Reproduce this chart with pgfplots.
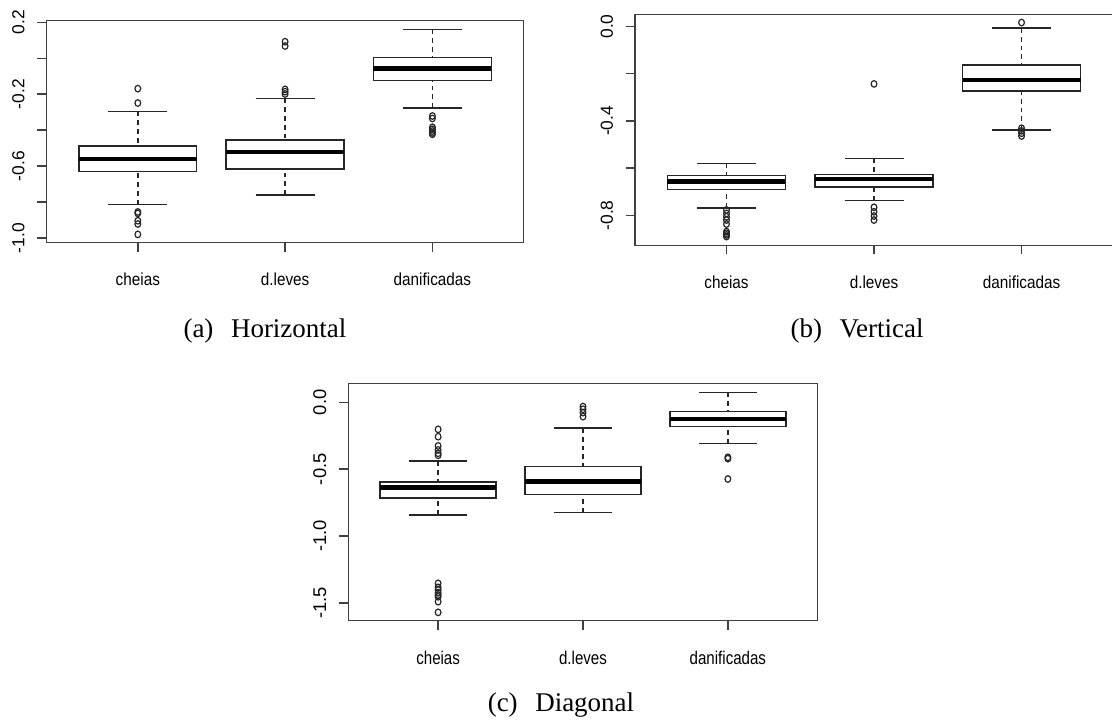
\documentclass[border=0pt]{standalone}
\usepackage{fontspec}
\setmainfont{Liberation Serif}
\setsansfont{Liberation Sans}
\usepackage{pgfplots}
\pgfplotsset{compat=1.18}
\usepgfplotslibrary{statistics}

% R-style boxplot: dashed stem, solid cap
\pgfplotsset{
  boxplot/draw/lower whisker/.code={%
    \draw[/pgfplots/boxplot/every whisker/.try, dash pattern=on 2.4pt off 2pt]
      (boxplot box cs:\pgfplotsboxplotvalue{lower whisker},0.5) --
      (boxplot box cs:\pgfplotsboxplotvalue{lower quartile},0.5);
    \draw[/pgfplots/boxplot/every whisker/.try]
      (boxplot whisker cs:\pgfplotsboxplotvalue{lower whisker},0) --
      (boxplot whisker cs:\pgfplotsboxplotvalue{lower whisker},1);
  },
  boxplot/draw/upper whisker/.code={%
    \draw[/pgfplots/boxplot/every whisker/.try, dash pattern=on 2.4pt off 2pt]
      (boxplot box cs:\pgfplotsboxplotvalue{upper whisker},0.5) --
      (boxplot box cs:\pgfplotsboxplotvalue{upper quartile},0.5);
    \draw[/pgfplots/boxplot/every whisker/.try]
      (boxplot whisker cs:\pgfplotsboxplotvalue{upper whisker},0) --
      (boxplot whisker cs:\pgfplotsboxplotvalue{upper whisker},1);
  },
  rbox/.style={
    scale only axis, anchor=south west,
    xmin=0.38, xmax=3.62,
    xtick={1,2,3}, xticklabels={cheias,d.leves,danificadas},
    tick align=outside, xtick pos=bottom, ytick pos=left,
    major tick length=4.5pt,
    axis line style={black!75, line width=0.75pt},
    every tick/.style={black!75, line width=0.75pt},
    yticklabel style={rotate=90, anchor=south, inner sep=0pt},
    xticklabel style={anchor=base, inner sep=0pt},
    boxplot/draw direction=y,
    boxplot/box extend=0.8,
    boxplot/whisker extend=0.4,
    boxplot/every box/.style={draw=black!85, line width=0.75pt},
    boxplot/every whisker/.style={black!85, line width=0.75pt},
    boxplot/every median/.style={black, line width=2.2pt},
  },
  rplot/.style={black!85, line width=0.75pt, mark=o, mark size=1.65pt,
    mark options={solid, line width=0.6pt, xscale=0.87}},
}

\begin{document}
\begin{tikzpicture}
\useasboundingbox (0,0) rectangle (556pt,363.5pt);
\clip (0,0) rectangle (556pt,363.5pt);

% (a) Horizontal
\begin{axis}[rbox, at={(23.25pt,242.15pt)}, width=238.6pt, height=111pt,
    ymin=-1.026, ymax=0.209,
    ytick={-1,-0.8,-0.6,-0.4,-0.2,0,0.2},
    yticklabels={-1.0,,-0.6,,-0.2,,0.2},
    ticklabel style={font=\sffamily\fontsize{8.7}{10}\selectfont},
    xticklabel style={xscale=0.88, yshift=-17pt},
    yticklabel style={yshift=6.3pt}]
\addplot[rplot, boxplot prepared={draw position=1, lower whisker=-0.814,
    lower quartile=-0.629, median=-0.560, upper quartile=-0.488, upper whisker=-0.297}]
  table[row sep=\\, y index=0] {data\\ -0.169\\ -0.249\\ -0.855\\ -0.863\\ -0.904\\ -0.922\\ -0.980\\};
\addplot[rplot, boxplot prepared={draw position=2, lower whisker=-0.761,
    lower quartile=-0.616, median=-0.521, upper quartile=-0.455, upper whisker=-0.223}]
  table[row sep=\\, y index=0] {data\\ 0.092\\ 0.068\\ -0.173\\ -0.186\\ -0.199\\};
\addplot[rplot, boxplot prepared={draw position=3, lower whisker=-0.277,
    lower quartile=-0.125, median=-0.058, upper quartile=0.003, upper whisker=0.161}]
  table[row sep=\\, y index=0] {data\\ -0.321\\ -0.335\\ -0.384\\ -0.395\\ -0.405\\ -0.415\\ -0.423\\};
\end{axis}

% (b) Vertical
\begin{axis}[rbox, at={(317.5pt,240.85pt)}, width=239pt, height=115.5pt,
    ymin=-0.927, ymax=0.052,
    ytick={-0.8,-0.6,-0.4,-0.2,0},
    yticklabels={-0.8,,-0.4,,0.0},
    ticklabel style={font=\sffamily\fontsize{8.7}{10}\selectfont},
    xticklabel style={xscale=0.88, yshift=-17pt},
    yticklabel style={yshift=6.3pt}]
\addplot[rplot, boxplot prepared={draw position=1, lower whisker=-0.769,
    lower quartile=-0.690, median=-0.657, upper quartile=-0.632, upper whisker=-0.580}]
  table[row sep=\\, y index=0] {data\\ -0.777\\ -0.792\\ -0.806\\ -0.820\\ -0.837\\ -0.869\\ -0.876\\ -0.883\\ -0.890\\};
\addplot[rplot, boxplot prepared={draw position=2, lower whisker=-0.738,
    lower quartile=-0.681, median=-0.647, upper quartile=-0.627, upper whisker=-0.559}]
  table[row sep=\\, y index=0] {data\\ -0.243\\ -0.766\\ -0.785\\ -0.803\\ -0.820\\};
\addplot[rplot, boxplot prepared={draw position=3, lower whisker=-0.438,
    lower quartile=-0.273, median=-0.226, upper quartile=-0.164, upper whisker=-0.006}]
  table[row sep=\\, y index=0] {data\\ 0.017\\ -0.431\\ -0.442\\ -0.452\\ -0.464\\};
\end{axis}

% (c) Diagonal
\begin{axis}[rbox, at={(174.15pt,53.15pt)}, width=234.7pt, height=118.7pt,
    ymin=-1.632, ymax=0.142,
    ytick={-1.5,-1,-0.5,0},
    yticklabels={-1.5,-1.0,-0.5,0.0},
    ticklabel style={font=\sffamily\fontsize{9.2}{11}\selectfont},
    xticklabel style={xscale=0.82, yshift=-17.5pt},
    yticklabel style={yshift=6.3pt}]
\addplot[rplot, boxplot prepared={draw position=1, lower whisker=-0.842,
    lower quartile=-0.715, median=-0.638, upper quartile=-0.596, upper whisker=-0.439}]
  table[row sep=\\, y index=0] {data\\ -0.202\\ -0.257\\ -0.326\\ -0.356\\ -0.381\\ -0.396\\
    -1.353\\ -1.383\\ -1.403\\ -1.423\\ -1.440\\ -1.453\\ -1.490\\ -1.570\\};
\addplot[rplot, boxplot prepared={draw position=2, lower whisker=-0.822,
    lower quartile=-0.688, median=-0.591, upper quartile=-0.481, upper whisker=-0.192}]
  table[row sep=\\, y index=0] {data\\ -0.032\\ -0.052\\ -0.077\\ -0.107\\};
\addplot[rplot, boxplot prepared={draw position=3, lower whisker=-0.307,
    lower quartile=-0.182, median=-0.125, upper quartile=-0.070, upper whisker=0.075}]
  table[row sep=\\, y index=0] {data\\ -0.411\\ -0.421\\ -0.573\\};
\end{axis}

% sub-captions
\node[anchor=base, font=\fontsize{13.5}{16}\selectfont] at (132.5pt,194.5pt) {(a)\hspace{0.65em}Horizontal};
\node[anchor=base, font=\fontsize{13.5}{16}\selectfont] at (428.5pt,194.5pt) {(b)\hspace{0.65em}Vertical};
\node[anchor=base, font=\fontsize{13.5}{16}\selectfont] at (280.5pt,7.5pt) {(c)\hspace{0.65em}Diagonal};
\end{tikzpicture}
\end{document}
